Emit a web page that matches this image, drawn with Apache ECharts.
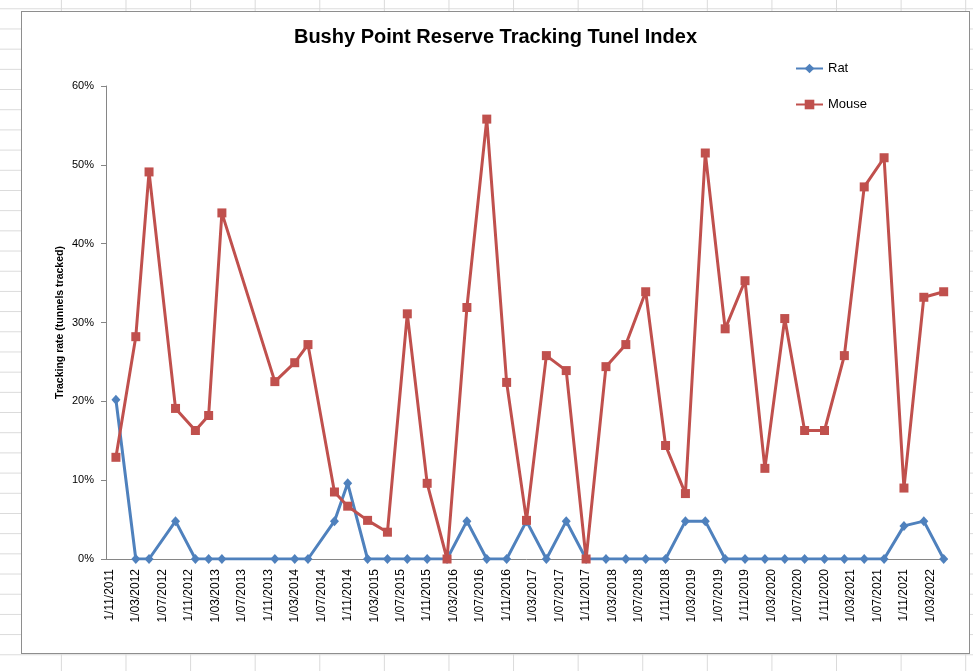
<!DOCTYPE html>
<html><head><meta charset="utf-8">
<script src="https://cdn.jsdelivr.net/npm/echarts@6/dist/echarts.min.js"></script>
<style>
html,body{margin:0;padding:0;width:973px;height:671px;overflow:hidden;background-color:#fff;}
body{background-image:linear-gradient(to right,#dadada 1px,transparent 1px),linear-gradient(to bottom,#dadada 1px,transparent 1px);background-size:64.6px 20.2px;background-position:60.9px 8.3px;}
#frame{position:absolute;left:21px;top:11px;width:949px;height:643px;border:1px solid #8e8e8e;box-sizing:border-box;background:#fff;}
#chart{position:absolute;left:22px;top:12px;width:947px;height:641px;}
</style></head><body>
<div id="frame"></div><div id="chart"></div>
<script>
// Axis extent (monthly date axis, Excel style)
const axisStart = '2011-11';
const axisEnd = '2022-05';

// Survey dates
const sampleDates = ['2011-12','2012-03','2012-05','2012-09','2012-12','2013-02','2013-04','2013-12',
  '2014-03','2014-05','2014-09','2014-11','2015-02','2015-05','2015-08','2015-11','2016-02','2016-05',
  '2016-08','2016-11','2017-02','2017-05','2017-08','2017-11','2018-02','2018-05','2018-08','2018-11',
  '2019-02','2019-05','2019-08','2019-11','2020-02','2020-05','2020-08','2020-11','2021-02','2021-05',
  '2021-08','2021-11','2022-02','2022-05'];

// Tracking rate (%)
const ratPct = [20.2,0,0,4.8,0,0,0,0,
  0,0,4.8,9.6,0,0,0,0,0,4.8,
  0,0,4.8,0,4.8,0,0,0,0,0,
  4.8,4.8,0,0,0,0,0,0,0,0,
  0,4.2,4.8,0];
const mousePct = [12.9,28.2,49.1,19.1,16.3,18.2,43.9,22.5,
  24.9,27.2,8.5,6.7,4.9,3.4,31.1,9.6,0,31.9,
  55.8,22.4,4.9,25.8,23.9,0,24.4,27.2,33.9,14.4,
  8.3,51.5,29.2,35.3,11.5,30.5,16.3,16.3,25.8,47.2,
  50.9,9.0,33.2,33.9];

const yTicks = [0,10,20,30,40,50,60];
const seriesNames = ['Rat','Mouse'];

function monthIndex(s){
  const [y,m] = s.split('-').map(Number);
  const [y0,m0] = axisStart.split('-').map(Number);
  return (y - y0) * 12 + (m - m0);
}
const categories = [];
for (let i = 0; i <= monthIndex(axisEnd); i++) {
  const [y0,m0] = axisStart.split('-').map(Number);
  const t = (m0 - 1) + i;
  const y = y0 + Math.floor(t / 12);
  const m = (t % 12) + 1;
  categories.push(y + '-' + String(m).padStart(2,'0'));
}
function labelOf(cat){
  const [y,m] = cat.split('-');
  return '1/' + m + '/' + y;
}

const chart = echarts.init(document.getElementById('chart'), null, {renderer:'canvas'});
const font = "'Liberation Sans', Arial, sans-serif";
chart.setOption({
  animation: false,
  backgroundColor: '#fff',
  title: {
    text: 'Bushy Point Reserve Tracking Tunel Index',
    left: 'center', top: 15, padding: 0,
    textStyle: {fontFamily: font, fontSize: 20, fontWeight: 'bold', color: '#000'}
  },
  legend: {
    data: seriesNames,
    orient: 'vertical', left: 773, top: 50, padding: 0,
    itemWidth: 27, itemHeight: 12, itemGap: 23,
    textStyle: {fontFamily: font, fontSize: 13, color: '#000', lineHeight: 12}
  },
  grid: {left: 84, right: 22, top: 74, bottom: 94},
  xAxis: {
    type: 'category',
    data: categories,
    boundaryGap: true,
    axisLine: {lineStyle: {color: '#868686', width: 1}},
    axisTick: {interval: 3, length: 5, lineStyle: {color: '#868686'}},
    axisLabel: {
      interval: 3, rotate: 90, margin: 10,
      fontFamily: font, fontSize: 12, color: '#000',
      formatter: labelOf
    },
    splitLine: {show: false}
  },
  yAxis: {
    type: 'value', min: yTicks[0], max: yTicks[yTicks.length-1], interval: yTicks[1]-yTicks[0],
    name: 'Tracking rate (tunnels tracked)',
    nameLocation: 'middle', nameGap: 40, nameRotate: 90, nameMoveOverlap: false,
    nameTextStyle: {fontFamily: font, fontSize: 10.5, fontWeight: 'bold', color: '#000'},
    axisLine: {show: true, lineStyle: {color: '#868686', width: 1}},
    axisTick: {show: true, length: 5, lineStyle: {color: '#868686'}},
    axisLabel: {margin: 12, fontFamily: font, fontSize: 11, color: '#000', formatter: '{value}%'},
    splitLine: {show: false}
  },
  series: [
    {
      name: seriesNames[0], type: 'line',
      data: sampleDates.map((d,i) => [monthIndex(d), ratPct[i]]),
      symbol: 'diamond', symbolSize: [9,10], showAllSymbol: true,
      lineStyle: {color: '#4F81BD', width: 3},
      itemStyle: {color: '#4F81BD'},
      z: 2
    },
    {
      name: seriesNames[1], type: 'line',
      data: sampleDates.map((d,i) => [monthIndex(d), mousePct[i]]),
      symbol: 'rect', symbolSize: 9, showAllSymbol: true,
      lineStyle: {color: '#C0504D', width: 3},
      itemStyle: {color: '#C0504D'},
      z: 3
    }
  ]
});
</script>
</body></html>
